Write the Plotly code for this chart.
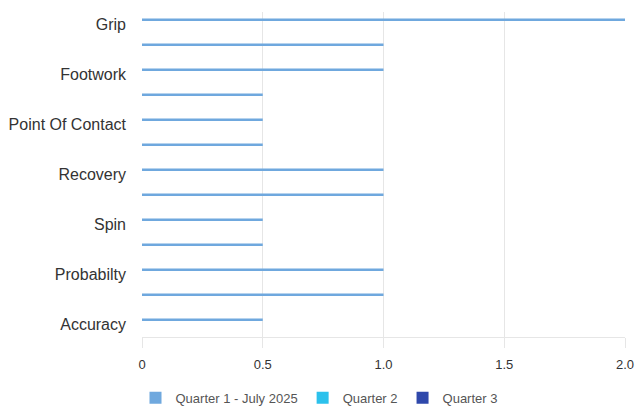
import plotly.graph_objects as go

categories = ["Grip", "", "Footwork", "", "Point Of Contact", "", "Recovery", "",
              "Spin", "", "Probabilty", "", "Accuracy"]
q1_values = [2, 1, 1, 0.5, 0.5, 0.5, 1, 1, 0.5, 0.5, 1, 1, 0.5]
q2_values = [None] * len(categories)
q3_values = [None] * len(categories)
series_names = ["Quarter 1 - July 2025", "Quarter 2", "Quarter 3"]
series_colors = ["#6fa8de", "#2cc1ec", "#2f48ab"]
x_ticks = [0, 0.5, 1.0, 1.5, 2.0]
x_tick_text = ["0", "0.5", "1.0", "1.5", "2.0"]

positions = list(range(len(categories)))
label_vals = [p for p, c in zip(positions, categories) if c]
label_text = [c for c in categories if c]

fig = go.Figure()
bar_w = 0.1
offsets = [-0.24, -0.05, 0.14]
for name, vals, color, off in zip(series_names, [q1_values, q2_values, q3_values],
                                  series_colors, offsets):
    fig.add_trace(go.Bar(
        x=vals, y=positions, orientation="h", name=name,
        marker=dict(color=color, line=dict(width=0)),
        width=bar_w, offset=off,
    ))

fig.update_layout(
    width=638, height=410,
    margin=dict(l=142, r=13, t=12, b=73, autoexpand=False),
    paper_bgcolor="white", plot_bgcolor="white",
    font=dict(family="Liberation Sans, Arial, sans-serif", color="#333333"),
    barmode="overlay",
    showlegend=True,
    legend=dict(orientation="h", xref="container", yref="container",
                x=0.5, xanchor="center", y=0.03, yanchor="middle",
                font=dict(size=13, color="#555555"), itemwidth=30),
)
fig.update_xaxes(
    range=[0, 2], tickvals=x_ticks, ticktext=x_tick_text, tickangle=0,
    showgrid=True, gridcolor="#e6e6e6", gridwidth=1,
    zeroline=False, showline=True, linecolor="#e6e6e6", linewidth=1,
    ticks="outside", ticklen=10, tickcolor="#e6e6e6", ticklabelstandoff=5,
    tickfont=dict(size=13, color="#333333"),
)
fig.update_yaxes(
    range=[len(categories) - 0.5, -0.5],
    tickvals=label_vals, ticktext=label_text,
    showgrid=False, zeroline=False, showline=False,
    ticks="", ticklabelstandoff=15,
    tickfont=dict(size=16, color="#333333"),
)

fig.write_html("out.html")
